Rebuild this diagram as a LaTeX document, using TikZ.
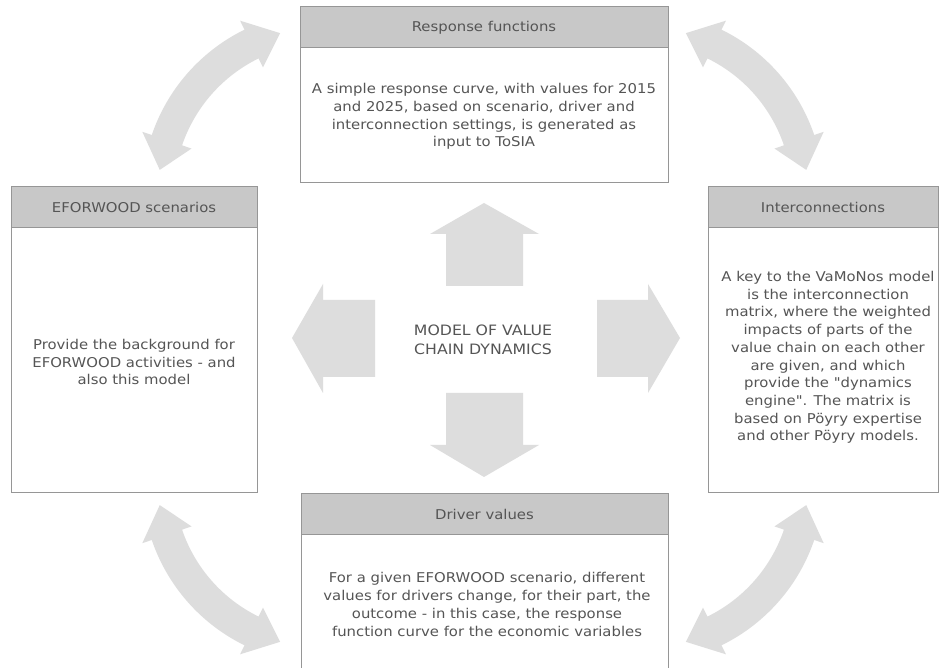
\documentclass[tikz,border=0pt]{standalone}
\usepackage{fontspec}
\setmainfont{DejaVu Sans}[FakeStretch=1.1, Ligatures=TeXOff]
\usetikzlibrary{calc}
\definecolor{hdrfill}{RGB}{200,200,200}
\definecolor{arrfill}{RGB}{221,221,221}
\definecolor{bordc}{RGB}{150,150,150}
\definecolor{txtc}{RGB}{85,85,85}
\newcommand\myCurvArrow[4]{%
  \pgfmathsetmacro\ca{#3+10.5}%
  \pgfmathsetmacro\cb{#4-10.5}%
  \fill[arrfill] ($(#1,#2)+(\ca:183)$) arc[start angle=\ca, end angle=\cb, radius=183]
    -- ($(#1,#2)+(\cb:193)$) -- ($(#1,#2)+(#4:167)$) -- ($(#1,#2)+(\cb:141)$)
    -- ($(#1,#2)+(\cb:151)$) arc[start angle=\cb, end angle=\ca, radius=151]
    -- ($(#1,#2)+(\ca:141)$) -- ($(#1,#2)+(#3:167)$) -- ($(#1,#2)+(\ca:193)$) -- cycle;}
\begin{document}
\begin{tikzpicture}[x=1pt,y=1pt,
  panel/.style={draw=bordc, line width=1pt, fill=white, inner sep=0pt},
  header/.style={draw=bordc, line width=1pt, fill=hdrfill, inner sep=0pt},
  label/.style={text=txtc, font=\fontsize{13.5}{17.7}\selectfont, align=center, inner sep=0pt},
  blockarrow/.style={fill=arrfill, draw=none}]
\useasboundingbox (0,0) rectangle (942,668);
\fill[white] (0,0) rectangle (942,668);
\clip (0,0) rectangle (942,668);
% straight block arrows
\fill[blockarrow] (446,382) -- (446,434) -- (430,434) -- (484,465) -- (539,434) -- (523,434) -- (523,382) -- cycle;
\fill[blockarrow] (446,275) -- (446,223) -- (430,223) -- (484,191) -- (539,223) -- (523,223) -- (523,275) -- cycle;
\fill[blockarrow] (375,291) -- (323,291) -- (323,275) -- (292,330) -- (323,384) -- (323,368) -- (375,368) -- cycle;
\fill[blockarrow] (597,291) -- (648,291) -- (648,275) -- (680,330) -- (648,384) -- (648,368) -- (597,368) -- cycle;
% curved double arrows
\myCurvArrow{325}{474}{105.6}{171.7}
\myCurvArrow{641}{474}{8.3}{74.4}
\myCurvArrow{325}{187}{188.3}{254.4}
\myCurvArrow{641}{187}{285.6}{351.7}
% top box
\node[panel, minimum width=368pt, minimum height=176pt] (respbox) at (484,573) {};
\node[header, minimum width=368pt, minimum height=41pt] (resphead) at (484,640.5) {};
\node[label] (resptitle) at (resphead) {Response functions};
\node[label] (resptext) at (484,551.5) {A simple response curve, with values for 2015\\ and 2025, based on scenario, driver and\\ interconnection settings, is generated as\\ input to ToSIA};
% left box
\node[panel, minimum width=246pt, minimum height=306pt] (scenbox) at (134,328) {};
\node[header, minimum width=246pt, minimum height=41pt] (scenhead) at (134,460.5) {};
\node[label] (scentitle) at (scenhead) {EFORWOOD scenarios};
\node[label] (scentext) at (134,306) {Provide the background for\\ EFORWOOD activities - and\\ also this model};
% right box
\node[panel, minimum width=230pt, minimum height=306pt] (intbox) at (823,328) {};
\node[header, minimum width=230pt, minimum height=41pt] (inthead) at (823,460.5) {};
\node[label] (inttitle) at (inthead) {Interconnections};
\node[label] (inttext) at (828,310.5) {A key to the VaMoNos model\\ is the interconnection\\ matrix, where the weighted\\ impacts of parts of the\\ value chain on each other\\ are given, and which\\ provide the "dynamics\\ engine". The matrix is\\ based on Pöyry expertise\\ and other Pöyry models.};
% bottom box
\node[panel, minimum width=367pt, minimum height=190pt] (drvbox) at (484.5,79) {};
\node[header, minimum width=367pt, minimum height=41pt] (drvhead) at (484.5,153.5) {};
\node[label] (drvtitle) at (drvhead) {Driver values};
\node[label] (drvtext) at (487,63.5) {For a given EFORWOOD scenario, different\\ values for drivers change, for their part, the\\ outcome - in this case, the response\\ function curve for the economic variables};
% centre
\node[label, font=\fontsize{14.3}{19}\selectfont] (model) at (483,328.5) {MODEL OF VALUE\\ CHAIN DYNAMICS};
\end{tikzpicture}
\end{document}
